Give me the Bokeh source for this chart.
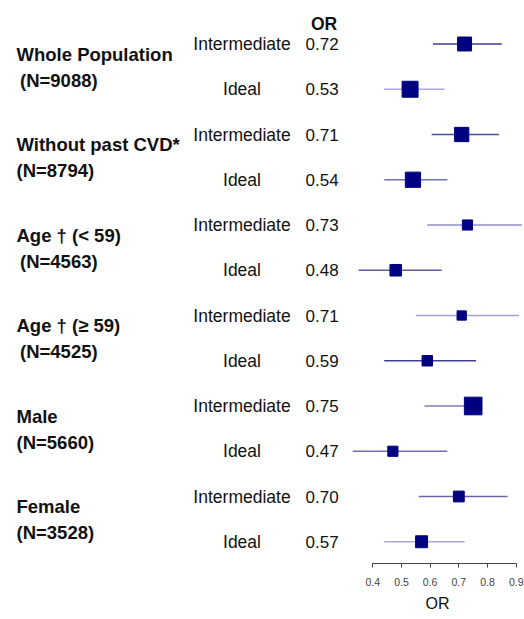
from bokeh.plotting import figure
from bokeh.models import ColumnDataSource, FixedTicker, Range1d, Title
from bokeh.core.properties import value
from bokeh.embed import file_html
from bokeh.resources import INLINE

# ---------------- data ----------------
groups = ["Whole Population", "Without past CVD*", "Age \u2020 (< 59)",
          "Age \u2020 (\u2265 59)", "Male", "Female"]
group_n = ["(N=9088)", "(N=8794)", "(N=4563)", "(N=4525)", "(N=5660)", "(N=3528)"]
levels = ["Intermediate", "Ideal"]
odds_ratio = [0.72, 0.53, 0.71, 0.54, 0.73, 0.48, 0.71, 0.59, 0.75, 0.47, 0.70, 0.57]
ci_lower = [0.61, 0.44, 0.605, 0.44, 0.59, 0.35, 0.55, 0.44, 0.58, 0.33, 0.56, 0.44]
ci_upper = [0.85, 0.65, 0.84, 0.66, 0.92, 0.64, 0.91, 0.76, 0.77, 0.66, 0.87, 0.72]
axis_ticks = [0.4, 0.5, 0.6, 0.7, 0.8, 0.9]

# ---------------- styles ----------------
line_colors = ["#3c3c8c", "#a8a8e0", "#50509a", "#7070b8", "#9090cc", "#5c5c9c",
               "#a0a0dc", "#404090", "#7c7cb4", "#7070b0", "#6868a8", "#a8a8e0"]
n_indent = [3.5, 0, 3.5, 3.5, 0, 0]
BOX_K = 3.35
NAVY = "#000080"
FONT = "Liberation Sans"

W, H = 524, 619
PX0 = 372.3     # canvas x of OR = 0.4
PXU = 286.8     # pixels per OR unit
ROW0 = 43.5     # canvas y of first row
ROWH = 45.25    # row spacing in px
FRAME_BOTTOM = 563
n_rows = len(odds_ratio)


def xd(cx):
    return 0.4 + (cx - PX0) / PXU


def yd(cy):
    return n_rows - (cy - ROW0) / ROWH


row_y = [n_rows - i for i in range(n_rows)]
row_level = [levels[i % 2] for i in range(n_rows)]
or_text = ["%.2f" % v for v in odds_ratio]
box_size = [BOX_K / (u - l) for l, u in zip(ci_lower, ci_upper)]

src = ColumnDataSource(dict(y=row_y, lo=ci_lower, hi=ci_upper, orv=odds_ratio,
                            lvl=row_level, ort=or_text, col=line_colors, sz=box_size))

p = figure(width=W, height=H, output_backend="svg", toolbar_location=None,
           x_range=Range1d(xd(0), xd(W)), y_range=Range1d(yd(FRAME_BOTTOM), yd(0)),
           y_axis_location=None, min_border_left=0, min_border_right=0,
           min_border_top=0, min_border_bottom=H - FRAME_BOTTOM)
p.outline_line_color = None
p.xgrid.visible = False
p.ygrid.visible = False
p.background_fill_color = "white"
p.border_fill_color = "white"

# CI lines and boxes
p.segment(x0="lo", y0="y", x1="hi", y1="y", line_color="col", line_width=1.7, source=src)
p.scatter(x="orv", y="y", marker="square", size="sz", fill_color=NAVY,
          line_color=NAVY, source=src)

# level labels and OR values
p.text(x=xd(241.5), y="y", text="lvl", text_align="center", text_baseline="middle",
       text_font=value(FONT), text_font_size="17.5px", text_color="#111111", source=src)
p.text(x=xd(305), y="y", text="ort", text_align="left", text_baseline="middle",
       text_font=value(FONT), text_font_size="17px", text_color="#111111", source=src)

# group labels
g_top = [row_y[2 * i] for i in range(len(groups))]
p.text(x=[xd(16)] * len(groups), y=[v - 0.23 for v in g_top], text=groups,
       text_align="left", text_baseline="middle", text_font=value(FONT),
       text_font_size="18.5px", text_font_style="bold", text_color="#111111")
p.text(x=[xd(16 + d) for d in n_indent], y=[v - 0.8 for v in g_top], text=group_n,
       text_align="left", text_baseline="middle", text_font=value(FONT),
       text_font_size="18.5px", text_font_style="bold", text_color="#111111")

# header
p.text(x=[xd(323.5)], y=[yd(23.3)], text=["OR"], text_align="center",
       text_baseline="middle", text_font=value(FONT), text_font_size="17.5px",
       text_font_style="bold", text_color="#111111")

# axis
ax = p.xaxis[0]
ax.bounds = (axis_ticks[0], axis_ticks[-1])
ax.ticker = FixedTicker(ticks=axis_ticks)
ax.minor_tick_line_color = None
ax.major_tick_out = 4
ax.major_tick_in = 0
ax.axis_line_color = "#444444"
ax.major_tick_line_color = "#444444"
ax.major_label_text_font = FONT
ax.major_label_text_font_size = "10.5px"
ax.major_label_text_color = "#444444"
ax.major_label_standoff = 10

# axis title placed under the axis span
p.add_layout(Title(text="OR", align="left", offset=425, standoff=9, text_font=FONT,
                   text_font_size="16px", text_font_style="normal",
                   text_color="#111111"), "below")

open("out.html", "w").write(file_html(p, INLINE))
